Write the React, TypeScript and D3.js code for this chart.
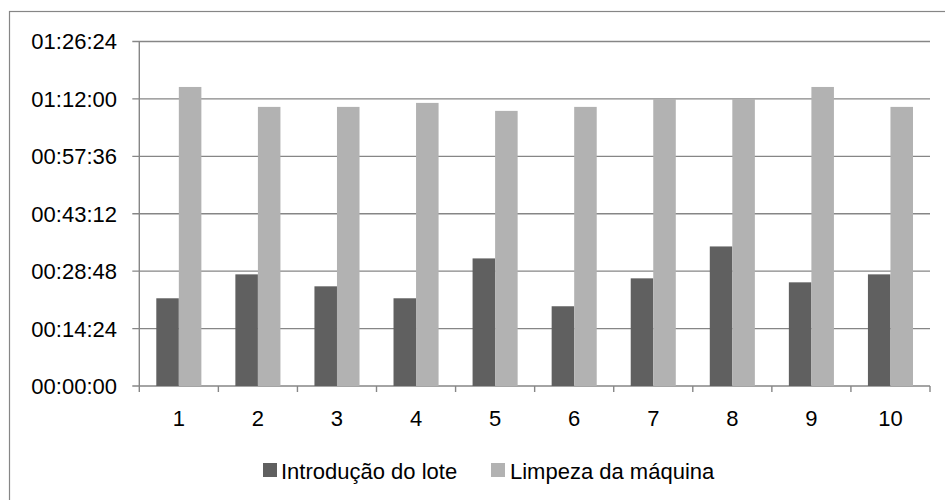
import React from "react";
import * as d3 from "d3";

const categories = ["1", "2", "3", "4", "5", "6", "7", "8", "9", "10"];
const introducaoDoLote = ["00:22:00", "00:28:00", "00:25:00", "00:22:00", "00:32:00", "00:20:00", "00:27:00", "00:35:00", "00:26:00", "00:28:00"];
const limpezaDaMaquina = ["01:15:00", "01:10:00", "01:10:00", "01:11:00", "01:09:00", "01:10:00", "01:12:00", "01:12:00", "01:15:00", "01:10:00"];
const seriesNames = ["Introdução do lote", "Limpeza da máquina"];
const yTickSeconds = [0, 864, 1728, 2592, 3456, 4320, 5184];

const toSec = (s: string) => {
  const [h, m, sec] = s.split(":").map(Number);
  return h * 3600 + m * 60 + sec;
};
const fmt = (v: number) => {
  const h = Math.floor(v / 3600);
  const m = Math.floor((v % 3600) / 60);
  const s = v % 60;
  const p = (n: number) => String(n).padStart(2, "0");
  return `${p(h)}:${p(m)}:${p(s)}`;
};

export default function App() {
  const W = 945, H = 500;
  const left = 139.3, right = 930, top = 41.5, bottom = 386;
  const colors = ["#606060", "#B2B2B2"];
  const gridColor = "#868686";
  const font = "'Liberation Sans', Arial, sans-serif";

  const x0 = d3.scaleBand<string>().domain(categories).range([left, right]).padding(0);
  const groupW = x0.bandwidth() * 0.57;
  const x1 = d3.scaleBand<string>().domain(["0", "1"]).range([0, groupW]).padding(0);
  const y = d3.scaleLinear().domain([0, 5184]).range([bottom, top]);
  const series = [introducaoDoLote.map(toSec), limpezaDaMaquina.map(toSec)];

  return (
    <svg width={W} height={H} style={{ position: "absolute", left: 0, top: 0 }} fontFamily={font}>
      <rect x={0} y={0} width={W} height={H} fill="#fff" />
      <rect x={9.5} y={11.5} width={W} height={H} fill="none" stroke={gridColor} strokeWidth={1.2} />
      {yTickSeconds.map((t) => (
        <g key={t}>
          <line x1={left - 7} x2={right} y1={y(t)} y2={y(t)} stroke={gridColor} strokeWidth={1.4} />
          <text x={117} y={y(t)} dy="0.36em" textAnchor="end" fontSize={22} fill="#000">{fmt(t)}</text>
        </g>
      ))}
      {categories.map((c, i) => (
        <g key={c}>
          {series.map((vals, si) => (
            <rect key={si}
              x={(x0(c) as number) + (x0.bandwidth() - groupW) / 2 + (x1(String(si)) as number)}
              y={y(vals[i])}
              width={x1.bandwidth()}
              height={bottom - y(vals[i])}
              fill={colors[si]} />
          ))}
          <text x={(x0(c) as number) + x0.bandwidth() / 2} y={426} textAnchor="middle" fontSize={22} fill="#000">{c}</text>
        </g>
      ))}
      <line x1={left} x2={left} y1={top} y2={bottom} stroke={gridColor} strokeWidth={1.4} />
      {[...categories.map((c) => x0(c) as number), right].map((xv, i) => (
        <line key={i} x1={xv} x2={xv} y1={bottom} y2={bottom + 6} stroke={gridColor} strokeWidth={1.4} />
      ))}
      <g>
        <rect x={263} y={463} width={14} height={14} fill={colors[0]} />
        <text x={281} y={479} fontSize={22} fill="#000">{seriesNames[0]}</text>
        <rect x={491} y={463} width={14} height={14} fill={colors[1]} />
        <text x={510} y={479} fontSize={22} fill="#000">{seriesNames[1]}</text>
      </g>
    </svg>
  );
}
